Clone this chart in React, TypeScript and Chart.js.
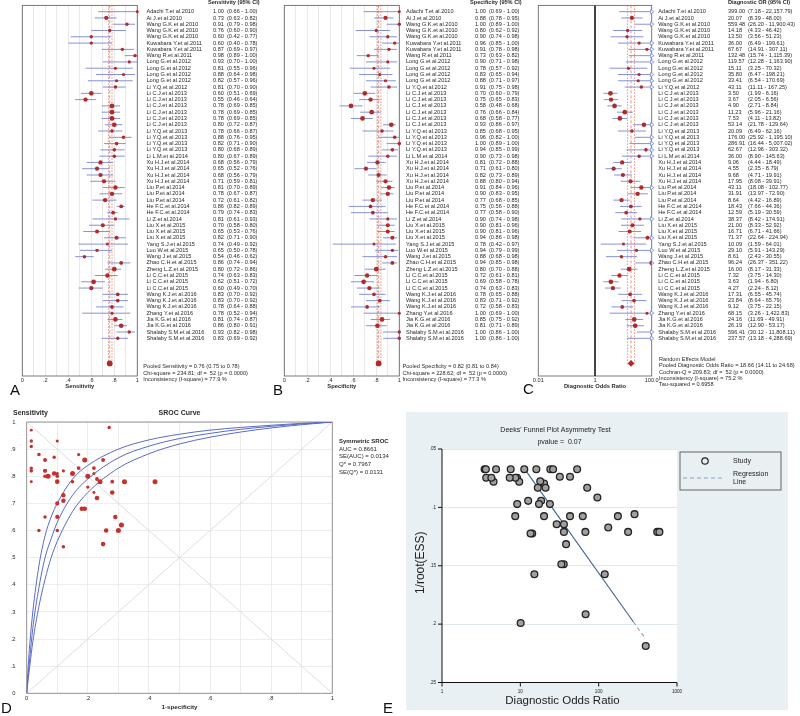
import React, { useEffect, useRef } from "react";
import { Chart, registerables } from "chart.js";
Chart.register(...registerables);

const FONT = 'Arial, "Liberation Sans", Helvetica, sans-serif';

// ---------- DATA ----------
const studies = [
  "Adachi T.et al.2010", "Ai J.et al.2010", "Wang G.K.et al.2010", "Wang G.K.et al.2010", "Wang G.K.et al.2010",
  "Kuwabara Y.et al.2011", "Kuwabara Y.et al.2011", "Wang R.et al.2011", "Long G.et al.2012", "Long G.et al.2012",
  "Long G.et al.2012", "Long G.et al.2012", "Li Y.Q.et al.2012", "Li C.J.et al.2013", "Li C.J.et al.2013",
  "Li C.J.et al.2013", "Li C.J.et al.2013", "Li C.J.et al.2013", "Li C.J.et al.2013", "Li Y.Q.et al.2013",
  "Li Y.Q.et al.2013", "Li Y.Q.et al.2013", "Li Y.Q.et al.2013", "Li L.M.et al.2014", "Xu H.J.et al.2014",
  "Xu H.J.et al.2014", "Xu H.J.et al.2014", "Xu H.J.et al.2014", "Liu P.et al.2014", "Liu P.et al.2014",
  "Liu P.et al.2014", "He F.C.et al.2014", "He F.C.et al.2014", "Li Z.et al.2014", "Liu X.et al.2015",
  "Liu X.et al.2015", "Liu X.et al.2015", "Yang S.J.et al.2015", "Luo W.et al.2015", "Wang J.et al.2015",
  "Zhao C.H.et al.2015", "Zheng L.Z.et al.2015", "Li C.C.et al.2015", "Li C.C.et al.2015", "Li C.C.et al.2015",
  "Wang K.J.et al.2016", "Wang K.J.et al.2016", "Wang K.J.et al.2016", "Zhang Y.et al.2016", "Jia K.G.et al.2016",
  "Jia K.G.et al.2016", "Shalaby S.M.et al.2016", "Shalaby S.M.et al.2016",
];

const sens = [1.00,0.73,0.91,0.76,0.60,0.60,0.87,0.98,0.93,0.81,0.88,0.82,0.81,0.60,0.55,0.78,0.78,0.78,0.80,0.78,0.88,0.82,0.80,0.80,0.68,0.65,0.68,0.71,0.81,0.78,0.72,0.86,0.79,0.81,0.70,0.65,0.82,0.74,0.65,0.54,0.86,0.80,0.74,0.62,0.60,0.83,0.83,0.78,0.78,0.81,0.86,0.93,0.83];
const sensLo = [0.66,0.63,0.79,0.60,0.42,0.40,0.69,0.89,0.70,0.55,0.64,0.57,0.70,0.51,0.46,0.69,0.69,0.69,0.72,0.66,0.76,0.71,0.68,0.67,0.56,0.52,0.56,0.59,0.70,0.67,0.61,0.82,0.74,0.61,0.58,0.53,0.71,0.49,0.50,0.46,0.74,0.72,0.63,0.51,0.49,0.70,0.70,0.64,0.52,0.74,0.80,0.82,0.69];
const sensHi = [1.00,0.82,0.98,0.90,0.77,0.78,0.97,1.00,1.00,0.96,0.98,0.96,0.90,0.69,0.64,0.85,0.85,0.85,0.87,0.87,0.95,0.90,0.89,0.89,0.79,0.76,0.79,0.81,0.89,0.87,0.82,0.89,0.83,0.93,0.80,0.76,0.90,0.92,0.78,0.62,0.94,0.86,0.83,0.72,0.70,0.92,0.92,0.88,0.94,0.87,0.91,0.98,0.92];

const spec = [1.00,0.88,1.00,0.80,0.90,0.96,0.91,0.73,0.90,0.78,0.83,0.88,0.91,0.70,0.75,0.58,0.76,0.68,0.93,0.85,0.96,1.00,0.94,0.90,0.81,0.71,0.82,0.88,0.91,0.90,0.77,0.75,0.77,0.90,0.90,0.90,0.94,0.78,0.94,0.88,0.94,0.80,0.72,0.69,0.74,0.78,0.83,0.72,1.00,0.85,0.81,1.00,1.00];
const specLo = [0.69,0.78,0.89,0.62,0.74,0.85,0.78,0.63,0.71,0.57,0.65,0.71,0.75,0.60,0.65,0.48,0.66,0.58,0.86,0.68,0.82,0.89,0.85,0.73,0.72,0.61,0.73,0.80,0.84,0.83,0.68,0.56,0.58,0.74,0.81,0.81,0.86,0.42,0.79,0.68,0.85,0.70,0.61,0.58,0.63,0.65,0.71,0.58,0.69,0.75,0.71,0.86,0.86];
const specHi = [1.00,0.95,1.00,0.92,0.98,1.00,0.98,0.82,0.98,0.92,0.94,0.97,0.98,0.79,0.83,0.68,0.84,0.77,0.97,0.95,1.00,1.00,0.99,0.98,0.88,0.80,0.89,0.94,0.96,0.95,0.85,0.88,0.90,0.98,0.96,0.96,0.98,0.97,0.99,0.98,0.98,0.88,0.81,0.78,0.83,0.88,0.92,0.83,1.00,0.92,0.89,1.00,1.00];

const dor = [399.00,20.07,559.48,14.18,13.50,36.00,67.67,132.48,119.57,15.11,35.80,33.41,43.11,3.50,3.67,4.90,11.23,7.53,53.14,20.09,176.00,286.91,62.67,36.00,9.06,4.55,9.68,17.95,43.11,31.91,8.64,18.43,12.59,38.37,21.00,16.71,71.37,10.09,29.10,8.61,96.24,16.00,7.32,3.63,4.27,17.31,23.84,9.12,68.15,24.16,26.19,596.41,237.57];
const dorLo = [7.18,8.39,26.20,4.33,3.56,6.49,14.91,15.74,12.28,3.25,6.47,6.54,11.11,1.99,2.05,2.71,5.96,4.11,21.78,6.49,25.92,16.44,12.96,8.90,4.44,2.35,4.71,8.08,18.08,13.97,4.42,7.66,5.19,8.42,8.33,6.71,22.64,1.59,5.91,2.43,26.37,8.17,3.75,1.94,2.24,6.55,8.64,3.75,3.26,11.69,12.90,30.12,13.18];
const dorHi = [22157.79,48.00,11900.43,46.42,51.23,199.61,307.11,1115.39,1163.90,70.32,198.21,170.69,167.25,6.16,6.56,8.84,21.16,13.82,129.64,62.16,1195.10,5007.02,303.32,145.63,18.49,8.79,19.91,39.91,102.77,72.90,16.89,44.36,30.59,174.91,52.92,41.66,224.94,64.01,143.29,30.55,351.22,31.33,14.30,6.80,8.12,45.74,65.79,22.15,1422.83,49.91,53.17,11808.11,4288.69];

// 1/root(ESS) per study
const essY = [0.2188,0.0795,0.121,0.1224,0.1224,0.121,0.121,0.1172,0.1573,0.1573,0.1487,0.1487,0.1075,0.0674,0.0746,0.0674,0.0674,0.0674,0.0674,0.1075,0.1075,0.1058,0.1075,0.1144,0.0746,0.0781,0.0781,0.0776,0.0738,0.0738,0.0746,0.0944,0.0944,0.1315,0.0832,0.0832,0.0832,0.1991,0.1144,0.1075,0.0915,0.0674,0.0746,0.0674,0.0746,0.0972,0.0972,0.0972,0.1916,0.0674,0.0674,0.121,0.121];

const pooledSens = [0.76, 0.75, 0.78];
const pooledSpec = [0.82, 0.81, 0.84];
const pooledDor = [18.66, 14.11, 24.68];

const sensStats = ["Pooled Sensitivity = 0.76 (0.75 to 0.78)", "Chi-square = 234.81; df =  52 (p = 0.0000)", "Inconsistency (I-square) = 77.9 %"];
const specStats = ["Pooled Specificity = 0.82 (0.81 to 0.84)", "Chi-square = 228.62; df =  52 (p = 0.0000)", "Inconsistency (I-square) = 77.3 %"];
const dorStats = ["Random Effects Model", "Pooled Diagnostic Odds Ratio = 18.66 (14.11 to 24.68)", "Cochran-Q = 209.83; df =  52 (p = 0.0000)", "Inconsistency (I-square) = 75.2 %", "Tau-squared = 0.6958"];

const propTicks = [0, 0.2, 0.4, 0.6, 0.8, 1];
const propTickLabels = ["0", ".2", ".4", ".6", ".8", "1"];
const dorTicks = [0.01, 1, 100];
const dorTickLabels = ["0.01", "1", "100.0"];

// SROC curves
const srocFpr = [0, 0.005, 0.01, 0.02, 0.04, 0.06, 0.08, 0.1, 0.15, 0.2, 0.3, 0.4, 0.5, 0.6, 0.7, 0.8, 0.9, 1];
const srocUpper = [0, 0.10, 0.18, 0.30, 0.47, 0.58, 0.65, 0.70, 0.79, 0.84, 0.90, 0.934, 0.955, 0.97, 0.98, 0.988, 0.995, 1];
const srocMid = [0, 0.07, 0.13, 0.24, 0.39, 0.50, 0.57, 0.63, 0.73, 0.79, 0.868, 0.911, 0.939, 0.958, 0.973, 0.984, 0.993, 1];
const srocLower = [0, 0.054, 0.10, 0.19, 0.32, 0.42, 0.50, 0.56, 0.67, 0.74, 0.83, 0.883, 0.919, 0.944, 0.963, 0.978, 0.99, 1];
const srocStats = ["AUC = 0.8661", "SE(AUC) = 0.0134", "Q* = 0.7967", "SE(Q*) = 0.0131"];
const srocTicks = [0, 0.1, 0.2, 0.3, 0.4, 0.5, 0.6, 0.7, 0.8, 0.9, 1];
const srocYLabels = ["0", ".1", ".2", ".3", ".4", ".5", ".6", ".7", ".8", ".9", "1"];
const srocXTicks = [0, 0.2, 0.4, 0.6, 0.8, 1];
const srocXLabels = ["0", ".2", ".4", ".6", ".8", "1"];
// plotted (continuity-corrected) position of 1-spec = 0 and sens = 1 studies
const zeroFprShown = 0.015;
const fullSensShown = 0.97;

const funnelYTicks = [0.05, 0.1, 0.15, 0.2, 0.25];
const funnelYLabels = [".05", ".1", ".15", ".2", ".25"];
const funnelXTicks = [1, 10, 100, 1000];
const funnelXLabels = ["1", "10", "100", "1000"];
const regressionDor = [11.2, 277, 391];
const regressionY = [0.0666, 0.198, 0.212];
const deeksP = "0.07";

// ---------- STYLE ----------
const RED = "#b02a28";
const CI_BLUE = "#8592d8";
const REF_RED = "rgba(226,95,70,0.85)";
const ROWS_MAX = 59;
const POOLED_ROW = 57;

const fmt2 = (v: number) => v.toLocaleString("en-US", { minimumFractionDigits: 2, maximumFractionDigits: 2 });

type ForestOpts = {
  est: number[]; lo: number[]; hi: number[]; pooled: number[];
  log: boolean; min: number; max: number;
  padLeft: number; padRight: number;
  header: string; headerX: number; nameX: number; valX: number; ciX: number;
  stats: string[]; statsX: number; statsY0: number;
  ticks: number[]; tickLabels: string[]; axisTitle: string;
  grid: boolean; nullLine: boolean; pooledStyle: string;
};

function forestConfig(o: ForestOpts): any {
  const clampX = (v: number) => Math.min(Math.max(v, o.min), o.max);
  const ci: any[] = [];
  o.est.forEach((_, i) => {
    ci.push({ x: clampX(o.lo[i]), y: i + 1 }, { x: clampX(o.hi[i]), y: i + 1 }, { x: clampX(o.hi[i]), y: null });
  });
  const pts = o.est.map((v, i) => ({ x: v, y: i + 1 }));
  const radii = essY.map((e) => 1.4 + 1 / (e * e) / 230);
  const arrows: any[] = [];
  o.hi.forEach((h, i) => { if (h > o.max) arrows.push({ x: o.max, y: i + 1 }); });
  const vline = (v: number) => [{ x: v, y: 0 }, { x: v, y: POOLED_ROW }];
  const datasets: any[] = [
    { data: pts, pointRadius: radii, pointBackgroundColor: RED, pointBorderWidth: 0, order: 0, clip: o.log ? undefined : false },
    { data: [{ x: o.pooled[0], y: POOLED_ROW }], pointStyle: o.pooledStyle, pointRadius: o.pooledStyle === "circle" ? 2.9 : 3.4, pointBackgroundColor: RED, pointBorderWidth: 0, order: 0 },
    { data: arrows, pointStyle: "triangle", rotation: 90, pointRadius: 2.4, pointBorderColor: CI_BLUE, pointBackgroundColor: "#fff", pointBorderWidth: 0.8, clip: false, order: 1 },
    { data: ci, showLine: true, spanGaps: false, borderColor: CI_BLUE, borderWidth: 1, pointRadius: 0, order: 2 },
    ...o.pooled.map((v, k) => ({ data: vline(v), showLine: true, borderColor: REF_RED, borderDash: k === 0 ? [3, 2] : [1.5, 1.5], borderWidth: 0.8, pointRadius: 0, order: 3 })),
  ];
  if (o.nullLine) {
    datasets.push({ data: [{ x: 1, y: 0 }, { x: 1, y: ROWS_MAX }], showLine: true, borderColor: "#111", borderWidth: 0.8, pointRadius: 0, order: 4 });
  }
  return {
    type: "scatter",
    data: { datasets },
    options: {
      animation: false, responsive: false, events: [],
      layout: { padding: { left: o.padLeft, right: o.padRight, top: 5.4, bottom: 0 } },
      plugins: { legend: { display: false }, tooltip: { enabled: false } },
      scales: {
        x: {
          type: o.log ? "logarithmic" : "linear", min: o.min, max: o.max,
          ticks: o.log ? { display: false } : { display: false, stepSize: 0.1 },
          grid: { display: o.grid, color: "#e2e2e2", lineWidth: 0.8, drawTicks: false },
          border: { display: false },
          afterFit: (s: any) => { s.height = 24; },
        },
        y: {
          type: "linear", min: 0, max: ROWS_MAX, reverse: true, display: false,
          afterFit: (s: any) => { s.width = 0; },
        },
      },
    },
    plugins: [{
      id: "forestText",
      beforeDatasetsDraw(chart: any) {
        const { ctx, chartArea: ca } = chart;
        ctx.save();
        ctx.strokeStyle = "#6a6a6a"; ctx.lineWidth = 0.9;
        ctx.strokeRect(ca.left, ca.top, ca.right - ca.left, ca.bottom - ca.top);
        ctx.restore();
      },
      afterDraw(chart: any) {
        const { ctx, chartArea: ca } = chart;
        const xs = chart.scales.x, ys = chart.scales.y;
        ctx.save();
        ctx.fillStyle = "#2a2a2a";
        ctx.textBaseline = "middle";
        ctx.textAlign = "left";
        ctx.font = `bold 5.6px ${FONT}`;
        ctx.fillText(o.header, o.headerX, 2.5);
        ctx.font = `5.6px ${FONT}`;
        studies.forEach((name, i) => {
          const y = ys.getPixelForValue(i + 1);
          ctx.fillText(name, o.nameX, y);
          ctx.fillText(fmt2(o.est[i]), o.valX, y);
          ctx.fillText(`(${fmt2(o.lo[i])} - ${fmt2(o.hi[i])})`, o.ciX, y);
        });
        o.stats.forEach((t, k) => ctx.fillText(t, o.statsX, o.statsY0 + k * 6.35));
        ctx.textAlign = "center";
        o.ticks.forEach((t, k) => ctx.fillText(o.tickLabels[k], xs.getPixelForValue(t), ca.bottom + 4.5));
        ctx.font = `bold 5.8px ${FONT}`;
        ctx.fillText(o.axisTitle, (ca.left + ca.right) / 2, ca.bottom + 10.5);
        ctx.restore();
      },
    }],
  };
}

function srocConfig(): any {
  const dPts = spec.map((s, i) => ({ x: s >= 1 ? zeroFprShown : 1 - s, y: sens[i] >= 1 ? fullSensShown : sens[i] }));
  const radii = essY.map((e) => 1.35 + 1 / (e * e) / 190);
  const curve = (arr: number[]) => ({
    data: srocFpr.map((x, i) => ({ x, y: arr[i] })), showLine: true, borderColor: "#5b6bc8", borderWidth: 1,
    pointRadius: 0, cubicInterpolationMode: "monotone", order: 1,
  });
  return {
    type: "scatter",
    data: {
      datasets: [
        { data: dPts, pointRadius: radii, pointBackgroundColor: "#c3322c", pointBorderWidth: 0, order: 0, clip: false },
        curve(srocUpper), curve(srocMid), curve(srocLower),
        { data: [{ x: 0, y: 0 }, { x: 1, y: 1 }], showLine: true, borderColor: "#dedede", borderWidth: 1, pointRadius: 0, order: 2 },
        { data: [{ x: 0, y: 1 }, { x: 1, y: 0 }], showLine: true, borderColor: "#dedede", borderWidth: 1, pointRadius: 0, order: 2 },
      ],
    },
    options: {
      animation: false, responsive: false, events: [],
      layout: { padding: { left: 26.7, right: 67.7, top: 17, bottom: 0 } },
      plugins: { legend: { display: false }, tooltip: { enabled: false } },
      scales: {
        x: {
          type: "linear", min: 0, max: 1, ticks: { display: false, stepSize: 0.1 },
          grid: { color: "#e8e8e8", lineWidth: 0.8, drawTicks: false }, border: { display: false },
          afterFit: (s: any) => { s.height = 22.7; },
        },
        y: {
          type: "linear", min: 0, max: 1, ticks: { display: false, stepSize: 0.1 },
          grid: { color: "#e8e8e8", lineWidth: 0.8, drawTicks: false }, border: { display: false },
          afterFit: (s: any) => { s.width = 0; },
        },
      },
    },
    plugins: [{
      id: "srocText",
      beforeDatasetsDraw(chart: any) {
        const { ctx, chartArea: ca } = chart;
        ctx.save();
        ctx.strokeStyle = "#8a8a8a"; ctx.lineWidth = 0.9;
        ctx.strokeRect(ca.left, ca.top, ca.right - ca.left, ca.bottom - ca.top);
        ctx.restore();
      },
      afterDraw(chart: any) {
        const { ctx, chartArea: ca } = chart;
        const xs = chart.scales.x, ys = chart.scales.y;
        ctx.save();
        ctx.fillStyle = "#2a2a2a";
        ctx.textBaseline = "middle";
        ctx.font = `5.8px ${FONT}`;
        ctx.textAlign = "right";
        srocTicks.forEach((t, k) => ctx.fillText(srocYLabels[k], 15.5, ys.getPixelForValue(t)));
        ctx.textAlign = "center";
        srocXTicks.forEach((t, k) => ctx.fillText(srocXLabels[k], xs.getPixelForValue(t), ca.bottom + 5));
        ctx.font = `bold 6.2px ${FONT}`;
        ctx.fillText("1-specificity", (ca.left + ca.right) / 2, ca.bottom + 13.5);
        ctx.font = `bold 7px ${FONT}`;
        ctx.fillText("SROC Curve", (ca.left + ca.right) / 2, 8);
        ctx.textAlign = "left";
        ctx.fillText("Sensitivity", 13, 8);
        ctx.font = `bold 6px ${FONT}`;
        ctx.fillText("Symmetric SROC", 339, 36);
        ctx.font = `6px ${FONT}`;
        srocStats.forEach((t, k) => ctx.fillText(t, 339, 44 + k * 7.7));
        ctx.restore();
      },
    }],
  };
}

function funnelConfig(): any {
  const ePts = dor.map((d, i) => ({ x: d, y: essY[i] }));
  return {
    type: "scatter",
    data: {
      datasets: [
        { data: ePts, pointRadius: 3.4, pointBackgroundColor: "#a0a0a0", pointBorderColor: "#222", pointBorderWidth: 1.3, order: 0, clip: false },
        { data: [{ x: regressionDor[0], y: regressionY[0] }, { x: regressionDor[1], y: regressionY[1] }], showLine: true, borderColor: "#3f5f8c", borderWidth: 1.1, pointRadius: 0, order: 1 },
        { data: [{ x: regressionDor[1], y: regressionY[1] }, { x: regressionDor[2], y: regressionY[2] }], showLine: true, borderColor: "#8ba2c0", borderDash: [4, 3], borderWidth: 1.1, pointRadius: 0, order: 1 },
      ],
    },
    options: {
      animation: false, responsive: false, events: [],
      layout: { padding: { left: 36, right: 111, top: 37, bottom: 0 } },
      plugins: { legend: { display: false }, tooltip: { enabled: false } },
      scales: {
        x: {
          type: "logarithmic", min: 1, max: 1000, ticks: { display: false },
          grid: { display: false }, border: { display: false },
          afterFit: (s: any) => { s.height = 27.5; },
        },
        y: {
          type: "linear", min: 0.05, max: 0.25, reverse: true, ticks: { display: false, stepSize: 0.05 },
          grid: { color: "#dfe8ec", lineWidth: 1, drawTicks: false }, border: { display: false },
          afterFit: (s: any) => { s.width = 0; },
        },
      },
    },
    plugins: [{
      id: "funnelText",
      beforeDraw(chart: any) {
        const { ctx, chartArea: ca } = chart;
        ctx.save();
        ctx.fillStyle = "#ffffff";
        ctx.fillRect(ca.left, ca.top, ca.right - ca.left, ca.bottom - ca.top);
        ctx.restore();
      },
      afterDraw(chart: any) {
        const { ctx, chartArea: ca } = chart;
        const xs = chart.scales.x, ys = chart.scales.y;
        ctx.save();
        ctx.strokeStyle = "#111"; ctx.lineWidth = 1;
        ctx.beginPath();
        ctx.moveTo(ca.left, ca.top); ctx.lineTo(ca.left, ca.bottom); ctx.lineTo(ca.right, ca.bottom);
        funnelYTicks.forEach((t) => { const y = ys.getPixelForValue(t); ctx.moveTo(ca.left - 4, y); ctx.lineTo(ca.left, y); });
        funnelXTicks.forEach((t) => { const x = xs.getPixelForValue(t); ctx.moveTo(x, ca.bottom); ctx.lineTo(x, ca.bottom + 4); });
        ctx.stroke();
        ctx.fillStyle = "#222";
        ctx.textBaseline = "middle";
        ctx.font = `4.6px ${FONT}`;
        ctx.textAlign = "right";
        funnelYTicks.forEach((t, k) => ctx.fillText(funnelYLabels[k], ca.left - 6, ys.getPixelForValue(t)));
        ctx.textAlign = "center";
        funnelXTicks.forEach((t, k) => ctx.fillText(funnelXLabels[k], xs.getPixelForValue(t), ca.bottom + 9));
        const cx = (ca.left + ca.right) / 2;
        ctx.font = `11.5px ${FONT}`;
        ctx.fillText("Diagnostic Odds Ratio", cx + 3, ca.bottom + 18);
        ctx.save();
        ctx.translate(15, (ca.top + ca.bottom) / 2 - 3);
        ctx.rotate(-Math.PI / 2);
        ctx.font = `12px ${FONT}`;
        ctx.fillText("1/root(ESS)", 0, 0);
        ctx.restore();
        ctx.font = `7px ${FONT}`;
        ctx.fillText("Deeks' Funnel Plot Asymmetry Test", cx - 4, 18);
        ctx.fillText(`pvalue =  ${deeksP}`, cx, 30);
        // legend
        ctx.strokeStyle = "#555"; ctx.lineWidth = 0.9;
        ctx.strokeRect(274, 40, 101, 38);
        ctx.beginPath();
        ctx.arc(299, 49, 3.2, 0, Math.PI * 2);
        ctx.fillStyle = "#e8eef2"; ctx.fill();
        ctx.strokeStyle = "#222"; ctx.lineWidth = 1.2; ctx.stroke();
        ctx.strokeStyle = "#8ba2c0"; ctx.lineWidth = 1; ctx.setLineDash([4, 3]);
        ctx.beginPath(); ctx.moveTo(277, 66); ctx.lineTo(318, 66); ctx.stroke();
        ctx.setLineDash([]);
        ctx.fillStyle = "#222"; ctx.textAlign = "left"; ctx.font = `7px ${FONT}`;
        ctx.fillText("Study", 327, 49);
        ctx.fillText("Regression", 327, 62.5);
        ctx.fillText("Line", 327, 70.5);
        ctx.restore();
      },
    }],
  };
}

function ChartBox({ left, top, width, height, make }: { left: number; top: number; width: number; height: number; make: () => any }) {
  const ref = useRef<HTMLCanvasElement>(null);
  useEffect(() => {
    const chart = new Chart(ref.current as HTMLCanvasElement, make());
    return () => chart.destroy();
  }, []);
  return (
    <div style={{ position: "absolute", left, top, width, height }}>
      <canvas ref={ref} width={width} height={height} style={{ width, height, display: "block" }} />
    </div>
  );
}

const letterStyle = (left: number, top: number): React.CSSProperties => ({
  position: "absolute", left, top, fontFamily: FONT, fontSize: 15, lineHeight: "15px", color: "#111",
});

export default function App() {
  const propFmt = { min: 0, max: 1, log: false, grid: true, nullLine: false, pooledStyle: "circle", ticks: propTicks, tickLabels: propTickLabels };
  return (
    <div style={{ position: "relative", width: 800, height: 716, background: "#fff", overflow: "hidden" }}>
      <style>{`body{margin:0}`}</style>
      <ChartBox left={0} top={0} width={265} height={400} make={() => forestConfig({
        ...propFmt, est: sens, lo: sensLo, hi: sensHi, pooled: pooledSens,
        padLeft: 22.3, padRight: 127.7, header: "Sensitivity (95% CI)", headerX: 208, nameX: 146.5, valX: 213, ciX: 227,
        stats: sensStats, statsX: 143.3, statsY0: 366.7, axisTitle: "Sensitivity",
      })} />
      <ChartBox left={262} top={0} width={268} height={400} make={() => forestConfig({
        ...propFmt, est: spec, lo: specLo, hi: specHi, pooled: pooledSpec,
        padLeft: 22.3, padRight: 130.7, header: "Specificity (95% CI)", headerX: 208, nameX: 144, valX: 213, ciX: 227,
        stats: specStats, statsX: 140.5, statsY0: 366.7, axisTitle: "Specificity",
      })} />
      <ChartBox left={530} top={0} width={270} height={400} make={() => forestConfig({
        est: dor, lo: dorLo, hi: dorHi, pooled: pooledDor, min: 0.01, max: 100, log: true, grid: false, nullLine: true,
        pooledStyle: "rectRot", ticks: dorTicks, tickLabels: dorTickLabels,
        padLeft: 8.3, padRight: 148.3, header: "Diagnostic OR (95% CI)", headerX: 198, nameX: 128.3, valX: 198, ciX: 218,
        stats: dorStats, statsX: 129, statsY0: 359.3, axisTitle: "Diagnostic Odds Ratio",
      })} />
      <div style={{ position: "absolute", left: 406, top: 412, width: 382, height: 298, background: "#e8f0f3" }} />
      <ChartBox left={0} top={405} width={400} height={311} make={srocConfig} />
      <ChartBox left={406} top={412} width={382} height={298} make={funnelConfig} />
      <div style={letterStyle(10, 382)}>A</div>
      <div style={letterStyle(273, 382)}>B</div>
      <div style={letterStyle(523, 381)}>C</div>
      <div style={letterStyle(1, 700)}>D</div>
      <div style={letterStyle(383, 700)}>E</div>
    </div>
  );
}
